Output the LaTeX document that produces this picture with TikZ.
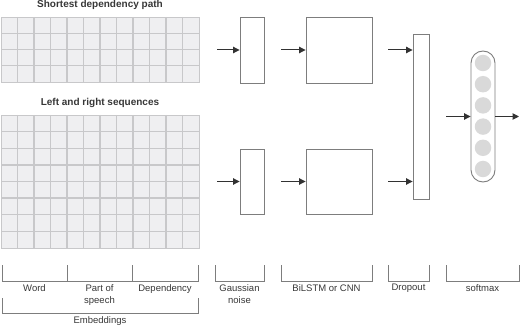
\documentclass[tikz,border=0pt]{standalone}
\usepackage{fontspec}
\setmainfont{Liberation Sans}
\usetikzlibrary{arrows.meta, positioning, calc}
\definecolor{cellfill}{RGB}{239,239,241}
\definecolor{cellline}{RGB}{200,200,202}
\definecolor{boxline}{RGB}{125,125,125}
\definecolor{arrowcol}{RGB}{50,50,50}
\definecolor{unitfill}{RGB}{217,217,217}
\definecolor{labeltext}{RGB}{55,55,55}

\begin{document}
\begin{tikzpicture}[x=1pt, y=-1pt,
    gridbox/.style={fill=cellfill, draw=cellline, line width=1.4pt, inner sep=0, anchor=north west},
    cellline/.style={draw=cellline, line width=1.4pt},
    layer/.style={draw=boxline, line width=0.9pt, inner sep=0},
    arr/.style={draw=arrowcol, line width=1pt, -{Triangle[length=6.5pt, width=6.5pt]}},
    brk/.style={draw=boxline, line width=0.9pt},
    lbl/.style={font=\fontsize{9.5}{12}\selectfont, text=labeltext, align=center, inner sep=0, anchor=north},
    title/.style={font=\fontsize{10}{12}\selectfont\bfseries, text=labeltext, inner sep=0, anchor=base}]
  \useasboundingbox (0,0) rectangle (520,326);

  % Embedding grids
  \node[gridbox, minimum width=198, minimum height=65] (sdp) at (1,17) {};
  \node[gridbox, minimum width=198, minimum height=133] (lrs) at (1,115) {};
  \foreach \i in {1,...,11} {
    \draw[cellline] ($(sdp.north west)+(\i*16.5,0)$) -- ++(0,65);
    \draw[cellline] ($(lrs.north west)+(\i*16.5,0)$) -- ++(0,133);
  }
  \foreach \j in {1,2,3}
    \draw[cellline] ($(sdp.north west)+(0,\j*16.25)$) -- ++(198,0);
  \foreach \j in {1,...,7}
    \draw[cellline] ($(lrs.north west)+(0,\j*16.625)$) -- ++(198,0);
  \node[title] (sdptitle) at (100,7.3) {Shortest dependency path};
  \node[title] (lrstitle) at (100,106) {Left and right sequences};

  % Layers
  \node[layer, minimum width=24, minimum height=66] (gn1) at (252,50) {};
  \node[layer, minimum width=24, minimum height=65] (gn2) at (252,181.5) {};
  \node[layer, minimum width=66, minimum height=66] (bl1) at (339,50) {};
  \node[layer, minimum width=66, minimum height=65] (bl2) at (339,181.5) {};
  \node[layer, minimum width=16, minimum height=165] (drop) at (421,116.5) {};
  \node[layer, minimum width=24, minimum height=131, rounded corners=12pt] (soft) at (483,116.5) {};
  \foreach \k in {1,...,6}
    \node[circle, fill=unitfill, inner sep=0, minimum size=16.5] (u\k) at (483,{63+21.2*(\k-1)}) {};

  % Arrows
  \draw[arr, shorten <=17pt] (gn1.west -| sdp.east) -- (gn1.west);
  \draw[arr, shorten <=17pt] (gn2.west -| lrs.east) -- (gn2.west);
  \draw[arr, shorten <=17pt] (gn1.east) -- (bl1.west);
  \draw[arr, shorten <=17pt] (gn2.east) -- (bl2.west);
  \draw[arr, shorten <=16pt] (bl1.east) -- (bl1.east -| drop.west);
  \draw[arr, shorten <=16pt] (bl2.east) -- (bl2.east -| drop.west);
  \draw[arr, shorten <=17pt] (drop.east) -- (soft.west);
  \coordinate (out) at (519,116.5);
  \draw[arr] (soft.east) -- (out);

  % Brackets and labels
  \draw[brk] (2,265) |- (198,281) -- (198,265);
  \draw[brk] (67,265) -- (67,281) (132,265) -- (132,281);
  \draw[brk] (2,298) |- (198,313) -- (198,298);
  \draw[brk] (215,265) |- (264,281) -- (264,265);
  \draw[brk] (281,265) |- (372,281) -- (372,265);
  \draw[brk] (388,265) |- (429,281) -- (429,265);
  \draw[brk] (446,265) |- (519,281) -- (519,265);
  \node[lbl] (word) at (34.5,284.2) {Word};
  \node[lbl] (pos) at (99.5,284.2) {Part of\\speech};
  \node[lbl] (dep) at (165,284.2) {Dependency};
  \node[lbl] (emb) at (100,316.7) {Embeddings};
  \node[lbl] (noise) at (239.5,284.2) {Gaussian\\noise};
  \node[lbl] (enc) at (326.5,284.2) {BiLSTM or CNN};
  \node[lbl] (dout) at (408.5,284.2) {Dropout};
  \node[lbl] (smax) at (482.5,284.2) {softmax};
\end{tikzpicture}
\end{document}
